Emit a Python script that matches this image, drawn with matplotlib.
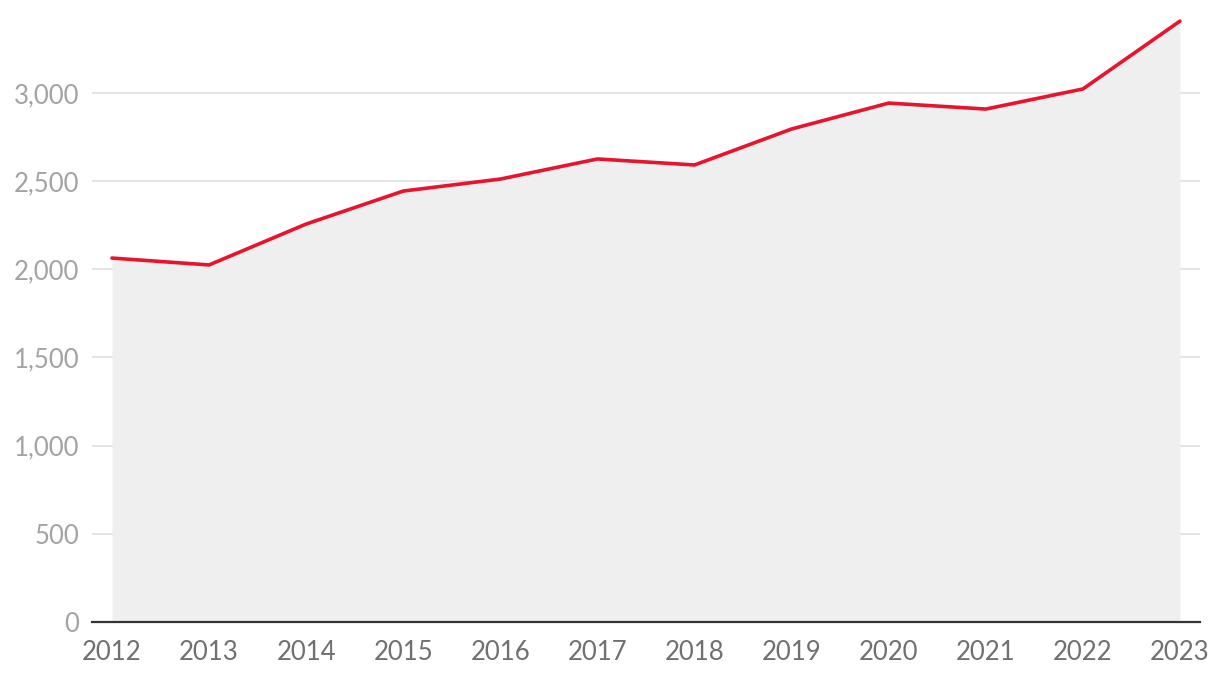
import matplotlib.pyplot as plt
import numpy as np

years = [2012, 2013, 2014, 2015, 2016, 2017, 2018, 2019, 2020, 2021, 2022, 2023]
values = [2064, 2025, 2257, 2444, 2512, 2626, 2592, 2796, 2943, 2909, 3023, 3408]
y_ticks = [0, 500, 1000, 1500, 2000, 2500, 3000]

plt.rcParams['font.family'] = ['Lato', 'DejaVu Sans']

fig = plt.figure(figsize=(12.2, 6.74), dpi=100)
ax = fig.add_axes([0.0754, 0.0772, 0.9082, 0.9025])

ax.fill_between(years, values, 0, color='#efefef', linewidth=0, zorder=1)
ax.plot(years, values, color='#e8142e', linewidth=2.6, solid_capstyle='round',
        solid_joinstyle='miter', zorder=3)

ax.set_xlim(2011.794, 2023.206)
ax.set_ylim(0, 3450)
ax.set_yticks(y_ticks)
ax.set_yticklabels([f'{v:,}' for v in y_ticks])
ax.set_xticks(years)
ax.set_xticklabels([str(y) for y in years])

ax.grid(axis='y', color='#e2e2e2', linewidth=1.3, zorder=0)
ax.set_axisbelow(True)
for s in ['top', 'right', 'left']:
    ax.spines[s].set_visible(False)
ax.spines['bottom'].set_color('#333333')
ax.spines['bottom'].set_linewidth(1.6)
ax.spines['bottom'].set_zorder(4)

ax.tick_params(axis='y', length=0, pad=9, labelsize=18.5, labelcolor='#a3a3a3')
ax.tick_params(axis='x', length=0, pad=13, labelsize=18.5, labelcolor='#707070')

fig.savefig('out.png', dpi=100)
